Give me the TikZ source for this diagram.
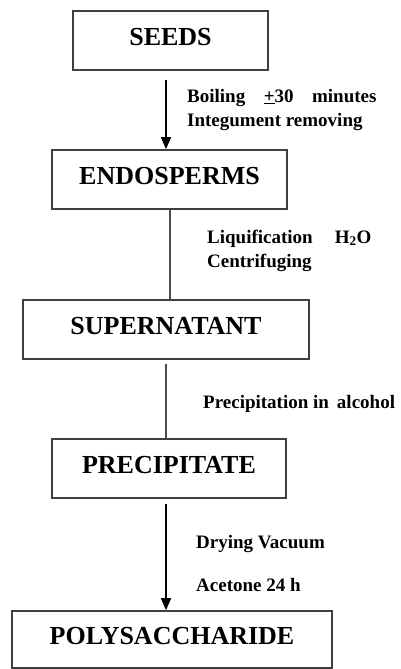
\documentclass[tikz,border=0pt]{standalone}
\usepackage{fontspec}
\setmainfont{Liberation Serif}
\usetikzlibrary{arrows.meta}
\begin{document}
\begin{tikzpicture}[x=1pt,y=-1pt,
  box/.style={draw=black!75,line width=1.6pt,rectangle,inner sep=0pt,minimum height=59pt,
    font=\fontsize{26}{26}\selectfont\bfseries,text height=17pt,text depth=7pt},
  lbl/.style={anchor=base west,inner sep=0pt,font=\fontsize{19}{19}\selectfont\bfseries},
  arr/.style={line width=1.6pt,-{Triangle[length=12pt,width=10pt]}},
  ln/.style={draw=black!70,line width=1.3pt}]
\useasboundingbox (0,0) rectangle (401,669);
\node[box,minimum width=195pt] (seeds) at (170.5,40.5) {SEEDS};
\node[box,minimum width=235pt] (endo) at (169.5,179.5) {ENDOSPERMS};
\node[box,minimum width=286pt] (super) at (166,329.5) {SUPERNATANT};
\node[box,minimum width=234pt] (prec) at (169,468.5) {PRECIPITATE};
\node[box,minimum width=320pt,minimum height=57pt] (poly) at (172,639.5) {POLYSACCHARIDE};
\coordinate (c1) at (166,0);
\coordinate (c2) at (170,0);
\draw[arr,shorten <=9pt] (c1 |- seeds.south) -- (c1 |- endo.north);
\draw[ln] (c2 |- endo.south) -- (c2 |- super.north);
\draw[ln,shorten <=4pt] (c1 |- super.south) -- (c1 |- prec.north);
\draw[arr,shorten <=5pt] (c1 |- prec.south) -- (c1 |- poly.north);
\node[lbl] (l1) at (187,102) {Boiling\hspace{18.5pt}\underline{+}30\hspace{18.5pt}minutes};
\node[lbl] (l2) at (187,126) {Integument removing};
\node[lbl] (l3) at (207,243) {Liquification\hspace{22pt}H\textsubscript{2}O};
\node[lbl] (l4) at (207,267) {Centrifuging};
\node[lbl] (l5) at (203,408) {Precipitation in\hspace{8pt}alcohol};
\node[lbl] (l6) at (196,548) {Drying Vacuum};
\node[lbl] (l7) at (196,591) {Acetone 24 h};
\end{tikzpicture}
\end{document}
